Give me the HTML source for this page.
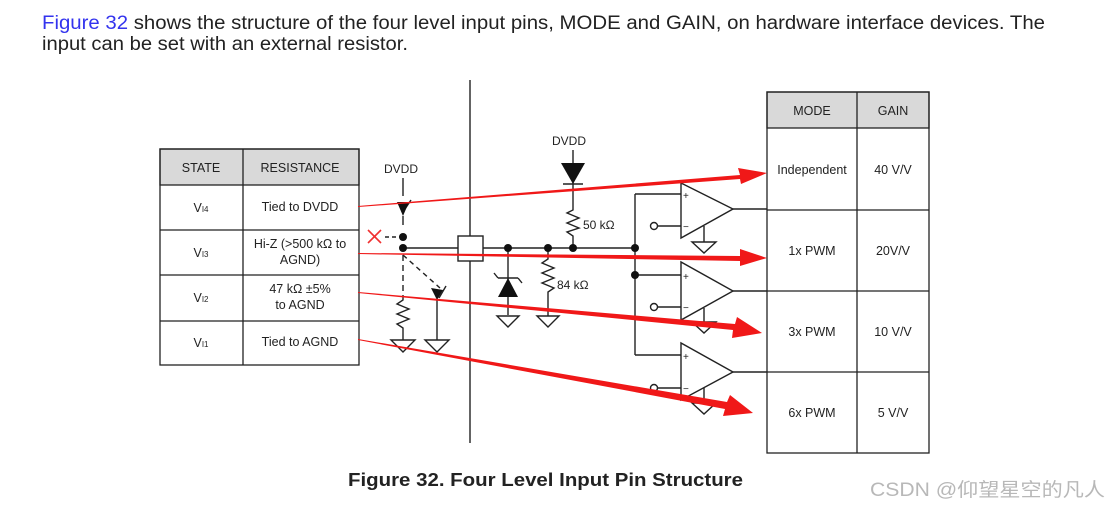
<!DOCTYPE html>
<html><head><meta charset="utf-8"><style>
body{margin:0;background:#fff;width:1110px;height:507px;overflow:hidden}
svg{display:block;font-family:"Liberation Sans",Arial,sans-serif}
</style></head><body>
<svg width="1110" height="507" viewBox="0 0 1110 507" xmlns="http://www.w3.org/2000/svg">
<text x="42" y="29" font-size="19" fill="#222" textLength="1003" lengthAdjust="spacingAndGlyphs"><tspan fill="#3333ee">Figure 32</tspan> shows the structure of the four level input pins, MODE and GAIN, on hardware interface devices. The</text>
<text x="42" y="50" font-size="19" fill="#222" textLength="366" lengthAdjust="spacingAndGlyphs">input can be set with an external resistor.</text>

<!-- left table -->
<g stroke="#222" stroke-width="1.3" fill="none">
<rect x="160" y="149" width="199" height="36" fill="#d9d9d9"/>
<rect x="160" y="149" width="199" height="216"/>
<line x1="243" y1="149" x2="243" y2="365"/>
<line x1="160" y1="230" x2="359" y2="230"/>
<line x1="160" y1="275" x2="359" y2="275"/>
<line x1="160" y1="321" x2="359" y2="321"/>
</g>
<g font-size="12.5" fill="#222" text-anchor="middle">
<text x="201" y="172">STATE</text><text x="300" y="172">RESISTANCE</text>
<text x="201" y="212">V<tspan font-size="8">I4</tspan></text><text x="300" y="211">Tied to DVDD</text>
<text x="201" y="257">V<tspan font-size="8">I3</tspan></text><text x="300" y="248">Hi-Z (&gt;500 kΩ to</text><text x="300" y="264">AGND)</text>
<text x="201" y="302">V<tspan font-size="8">I2</tspan></text><text x="300" y="293">47 kΩ ±5%</text><text x="300" y="309">to AGND</text>
<text x="201" y="347">V<tspan font-size="8">I1</tspan></text><text x="300" y="346">Tied to AGND</text>
</g>

<!-- right table -->
<g stroke="#222" stroke-width="1.3" fill="none">
<rect x="767" y="92" width="162" height="36" fill="#d9d9d9"/>
<rect x="767" y="92" width="162" height="361"/>
<line x1="857" y1="92" x2="857" y2="453"/>
<line x1="767" y1="210" x2="929" y2="210"/>
<line x1="767" y1="291" x2="929" y2="291"/>
<line x1="767" y1="372" x2="929" y2="372"/>
</g>
<g font-size="12.5" fill="#222" text-anchor="middle">
<text x="812" y="115">MODE</text><text x="893" y="115">GAIN</text>
<text x="812" y="174">Independent</text><text x="893" y="174">40 V/V</text>
<text x="812" y="255">1x PWM</text><text x="893" y="255">20V/V</text>
<text x="812" y="336">3x PWM</text><text x="893" y="336">10 V/V</text>
<text x="812" y="417">6x PWM</text><text x="893" y="417">5 V/V</text>
</g>

<!-- circuit -->
<g stroke="#222" stroke-width="1.4" fill="none">
<line x1="470" y1="80" x2="470" y2="443"/>
<rect x="458" y="236" width="25" height="25" fill="#fff"/>
<line x1="403" y1="248" x2="458" y2="248"/>
<line x1="483" y1="248" x2="635" y2="248"/>
<line x1="403" y1="178" x2="403" y2="196"/>
<line x1="403" y1="216" x2="403" y2="225"/>
<line x1="403" y1="237" x2="385" y2="237" stroke-dasharray="4,3"/>
<line x1="403" y1="255" x2="403" y2="295" stroke-dasharray="6,4"/>
<polyline points="403,295 403,300 397,304 409,309 397,314 409,319 397,324 403,328 403,340"/>
<line x1="403" y1="255" x2="440" y2="288" stroke-dasharray="5,4"/>
<line x1="437" y1="300" x2="437" y2="340"/>
<line x1="411" y1="200" x2="403" y2="212"/><line x1="446" y1="286" x2="439" y2="298"/>
<polygon points="391,340 415,340 403,352" fill="#fff"/>
<polygon points="425,340 449,340 437,352" fill="#fff"/>
<line x1="573" y1="150" x2="573" y2="205"/>
<line x1="563" y1="184" x2="583" y2="184"/>
<polyline points="573,205 573,210 567,213 579,218 567,223 579,228 567,232 573,236 573,248"/>
<line x1="508" y1="248" x2="508" y2="315"/>
<line x1="498" y1="278" x2="518" y2="278"/><line x1="498" y1="278" x2="494" y2="273"/><line x1="518" y1="278" x2="522" y2="283"/>
<polygon points="497,316 519,316 508,327" fill="#fff"/>
<polyline points="548,248 548,259 542,263 554,268 542,273 554,278 542,283 554,288 548,292 548,316"/>
<polygon points="537,316 559,316 548,327" fill="#fff"/>
<line x1="635" y1="194" x2="635" y2="355"/>
<line x1="635" y1="194" x2="681" y2="194"/>
<line x1="635" y1="275" x2="681" y2="275"/>
<line x1="635" y1="355" x2="681" y2="355"/>
<g fill="#fff">
<polygon points="681,183 681,238 733,209"/>
<polygon points="681,262 681,320 733,291"/>
<polygon points="681,343 681,400 733,372"/>
<circle cx="654" cy="226" r="3.5"/><circle cx="654" cy="307" r="3.5"/><circle cx="654" cy="388" r="3.5"/>
<polygon points="692,242 716,242 704,253"/><polygon points="692,322 716,322 704,333"/><polygon points="692,403 716,403 704,414"/>
</g>
<line x1="704" y1="226" x2="704" y2="242"/><line x1="704" y1="308" x2="704" y2="322"/><line x1="704" y1="388" x2="704" y2="403"/>
<line x1="658" y1="226" x2="681" y2="226"/><line x1="658" y1="307" x2="681" y2="307"/><line x1="658" y1="388" x2="681" y2="388"/>
<line x1="733" y1="209" x2="767" y2="209"/><line x1="733" y1="291" x2="767" y2="291"/><line x1="733" y1="372" x2="767" y2="372"/>
</g>
<g fill="#111">
<polygon points="561,163 585,163 573,184"/>
<polygon points="498,297 518,297 508,278"/>
<circle cx="403" cy="237" r="4"/><circle cx="403" cy="248" r="4"/>
<circle cx="508" cy="248" r="4"/><circle cx="548" cy="248" r="4"/><circle cx="573" cy="248" r="4"/><circle cx="635" cy="248" r="4"/><circle cx="635" cy="275" r="4"/>
<polygon points="403,216 397,202 409,202"/><polygon points="437,300 431,288 443,290"/>
</g>
<g font-size="12" fill="#222">
<text x="384" y="173">DVDD</text><text x="552" y="145">DVDD</text>
<text x="583" y="229">50 kΩ</text><text x="557" y="289">84 kΩ</text>
<text x="683" y="199" font-size="10">+</text><text x="683" y="230" font-size="10">−</text>
<text x="683" y="280" font-size="10">+</text><text x="683" y="311" font-size="10">−</text>
<text x="683" y="360" font-size="10">+</text><text x="683" y="392" font-size="10">−</text>
</g>
<g stroke="#f03030" stroke-width="1.6"><line x1="368" y1="230" x2="381" y2="243"/><line x1="381" y1="230" x2="368" y2="243"/></g>
<g fill="#f01818">
<polygon points="358,206 740,175 738,168 767,173 741,184 740,179 358,207"/>
<polygon points="358,253 740,256 740,249 767,258 740,266 740,261 358,254"/>
<polygon points="358,292 735,324 737,317 762,333 732,338 733,330 358,293"/>
<polygon points="358,339 727,402 730,395 753,413 723,416 725,409 358,340"/>
</g>
<text x="348" y="486" font-size="18.5" font-weight="bold" fill="#222" textLength="395" lengthAdjust="spacingAndGlyphs">Figure 32.  Four Level Input Pin Structure</text>
<text x="870" y="496" font-size="19" fill="#b8b8b8" textLength="235" lengthAdjust="spacingAndGlyphs" font-family="Liberation Sans,'Noto Sans CJK SC',sans-serif">CSDN @仰望星空的凡人</text>
</svg>
</body></html>
